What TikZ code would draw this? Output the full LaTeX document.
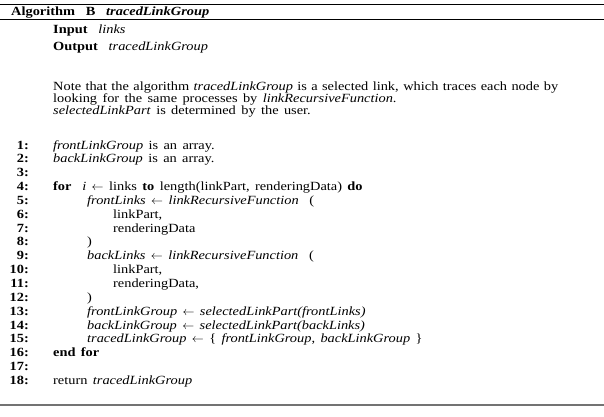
\documentclass[tikz,border=0pt]{standalone}
\usepackage{fontspec}
\setmainfont{Liberation Serif}[FakeStretch=1.15, WordSpace=1.5]
\usetikzlibrary{positioning}

\begin{document}
\begin{tikzpicture}[x=1pt, y=-1pt,
  every node/.style={inner sep=0pt, font=\fontsize{12.5}{12.5}\selectfont},
  num/.style={anchor=base east, font=\fontsize{12.5}{12.5}\selectfont\bfseries},
  code/.style={anchor=base west}]

\def \rowtop {149}
\def \rowgap {13.85}
\def \indA {24pt}  % first level, after the numbers
\def \indB {58pt}
\def \indC {84pt}

\useasboundingbox (0,0) rectangle (604,416);

% rules
\draw[line width=1.6pt] (0,4.5) -- (604,4.5);
\draw[line width=0.9pt] (0,19) -- (604,19);
\draw[line width=1.2pt, black!55] (0,405) -- (604,405);

% head
\node[code] (title) at (11,15.5) {\textbf{Algorithm\ \ B}\ \ \textbf{\textit{tracedLinkGroup}}};
\node[code] (input) at (53,33) {\textbf{Input}\ \ \textit{links}};
\node[code] (output) at (53,50.5) {\textbf{Output}\ \ \textit{tracedLinkGroup}};
\node[anchor=north west, text width=505pt, align=justify,
  font=\fontsize{12.5}{12.2}\selectfont] (note) at (53,81.5)
  {Note that the algorithm \textit{tracedLinkGroup} is a selected link, which traces each node by\linebreak
   looking for the same processes by \textit{linkRecursiveFunction}.\newline
   \textit{selectedLinkPart} is determined by the user.};

% line numbers
\foreach \k in {1,...,18}
{
  \node[num] (n\k) at (29,{\rowtop+(\k-1)*\rowgap}) {\k:};
}

% code lines
\node[code] (c1) at ([xshift=\indA]n1.base east) {\textit{frontLinkGroup} is an array.};
\node[code] (c2) at ([xshift=\indA]n2.base east) {\textit{backLinkGroup} is an array.};
\node[code] (c4) at ([xshift=\indA]n4.base east) {\textbf{for}\ \ \textit{i}\ $\leftarrow$ links \textbf{to} length(linkPart, renderingData) \textbf{do}};
\node[code] (c5) at ([xshift=\indB]n5.base east) {\textit{frontLinks} $\leftarrow$ \textit{linkRecursiveFunction}\ \ (};
\node[code] (c6) at ([xshift=\indC]n6.base east) {linkPart,};
\node[code] (c7) at ([xshift=\indC]n7.base east) {renderingData};
\node[code] (c8) at ([xshift=\indB]n8.base east) {)};
\node[code] (c9) at ([xshift=\indB]n9.base east) {\textit{backLinks} $\leftarrow$ \textit{linkRecursiveFunction}\ \ (};
\node[code] (c10) at ([xshift=\indC]n10.base east) {linkPart,};
\node[code] (c11) at ([xshift=\indC]n11.base east) {renderingData,};
\node[code] (c12) at ([xshift=\indB]n12.base east) {)};
\node[code] (c13) at ([xshift=\indB]n13.base east) {\textit{frontLinkGroup} $\leftarrow$ \textit{selectedLinkPart(frontLinks)}};
\node[code] (c14) at ([xshift=\indB]n14.base east) {\textit{backLinkGroup} $\leftarrow$ \textit{selectedLinkPart(backLinks)}};
\node[code] (c15) at ([xshift=\indB]n15.base east) {\textit{tracedLinkGroup} $\leftarrow$ \{ \textit{frontLinkGroup}, \textit{backLinkGroup} \}};
\node[code] (c16) at ([xshift=\indA]n16.base east) {\textbf{end for}};
\node[code] (c18) at ([xshift=\indA]n18.base east) {return \textit{tracedLinkGroup}};
\end{tikzpicture}
\end{document}
